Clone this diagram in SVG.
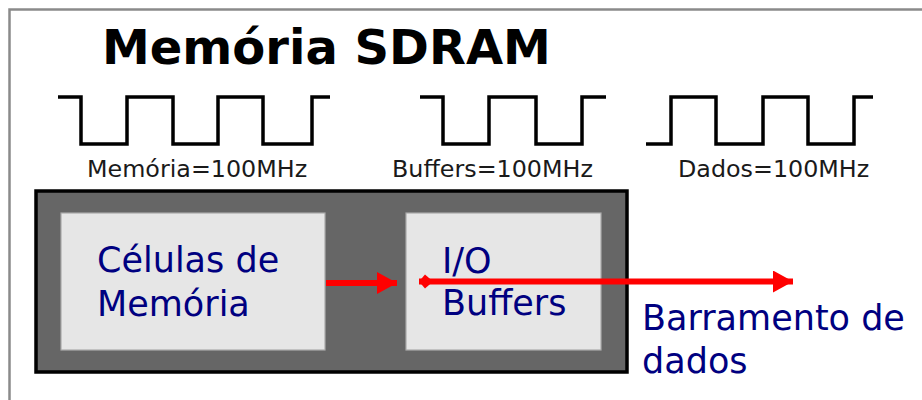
<svg xmlns="http://www.w3.org/2000/svg" width="922" height="400" viewBox="0 0 922 400">
<defs>
<style>
.frame{fill:#fff;stroke:#8a8a8a;stroke-width:2.5}
.clk{fill:none;stroke:#000;stroke-width:3.5}
.lbl{font-family:"DejaVu Sans",sans-serif;font-size:23.8px;fill:#1a1a1a}
.title{font-family:"DejaVu Sans",sans-serif;font-size:48px;font-weight:bold;fill:#000}
.chip{fill:#666;stroke:#000;stroke-width:3.5}
.blk{fill:#e6e6e6;stroke:#aaa;stroke-width:1.2}
.txt{font-family:"DejaVu Sans",sans-serif;font-size:35px;fill:#000080}
.wire{stroke:#f00;stroke-width:6;fill:none}
</style>
<marker id="ah" markerUnits="userSpaceOnUse" markerWidth="20" markerHeight="22" refX="20" refY="11" orient="auto">
<path d="M0,0 L20,11 L0,22 Z" fill="#f00"/>
</marker>
<marker id="dm" markerUnits="userSpaceOnUse" markerWidth="16" markerHeight="16" refX="1" refY="8" orient="auto">
<path d="M1,8 L7,1 L15,8 L7,15 Z" fill="#f00"/>
</marker>
</defs>
<rect class="frame" x="9.5" y="9.5" width="940" height="420"/>
<text class="title" x="102" y="64">Memória SDRAM</text>
<g id="clocks">
<polyline class="clk" points="58,97 81,97 81,144 127,144 127,97 173,97 173,144 218,144 218,97 263,97 263,144 312,144 312,97 330,97"/>
<polyline class="clk" points="420,97 443,97 443,144 489,144 489,97 536,97 536,144 582,144 582,97 606,97"/>
<polyline class="clk" points="646,144 671,144 671,97 716,97 716,144 763,144 763,97 808,97 808,144 854,144 854,97 873,97"/>
<text class="lbl" x="87" y="177">Memória=100MHz</text>
<text class="lbl" x="392" y="177">Buffers=100MHz</text>
<text class="lbl" x="678" y="177">Dados=100MHz</text>
</g>
<g id="chip">
<rect class="chip" x="36" y="191" width="591" height="181"/>
</g>
<g id="celulas">
<rect class="blk" x="61" y="213" width="264" height="137"/>
<text class="txt" x="97" y="272">Células de</text>
<text class="txt" x="97" y="316">Memória</text>
</g>
<g id="buffers">
<rect class="blk" x="406" y="213" width="195" height="137"/>
<text class="txt" x="442" y="273">I/O</text>
<text class="txt" x="442" y="315">Buffers</text>
</g>
<g id="barramento">
<text class="txt" x="642" y="330">Barramento de</text>
<text class="txt" x="642" y="373">dados</text>
</g>
<g id="connectors">
<line class="wire" x1="326" y1="283" x2="397" y2="283" marker-end="url(#ah)"/>
<line class="wire" x1="419" y1="281.5" x2="793" y2="281.5" marker-start="url(#dm)" marker-end="url(#ah)"/>
</g>
</svg>
